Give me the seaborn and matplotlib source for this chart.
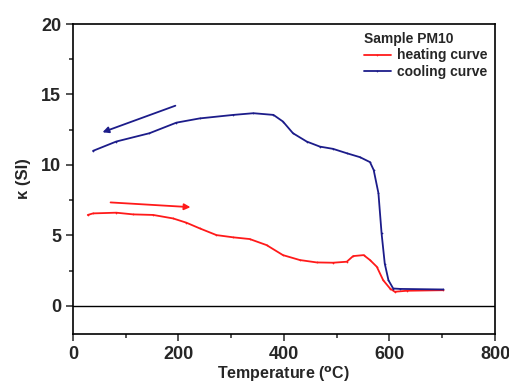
import matplotlib
matplotlib.use("Agg")
import matplotlib.pyplot as plt
import seaborn as sns
import pandas as pd
from matplotlib.ticker import MultipleLocator

# data
heat_T = [28, 38, 82, 114, 152, 190, 215, 240, 272, 304, 335, 367, 398, 430, 462, 493, 519, 531, 551, 563, 576, 588, 601, 610, 633, 702]
heat_k = [6.45, 6.56, 6.61, 6.49, 6.45, 6.2, 5.9, 5.5, 5.02, 4.86, 4.74, 4.31, 3.6, 3.25, 3.08, 3.06, 3.13, 3.53, 3.6, 3.25, 2.77, 1.82, 1.23, 1.0, 1.07, 1.11]
cool_T = [38, 82, 145, 196, 240, 304, 342, 380, 398, 417, 443, 468, 493, 519, 544, 563, 570, 579, 585, 591, 598, 607, 620, 702]
cool_k = [11.0, 11.66, 12.25, 13.0, 13.3, 13.55, 13.67, 13.55, 13.08, 12.25, 11.66, 11.3, 11.14, 10.83, 10.55, 10.2, 9.64, 8.0, 5.14, 3.0, 1.82, 1.23, 1.2, 1.16]
series_names = ["heating curve", "cooling curve"]
legend_title = "Sample PM10"

sns.set_style("ticks")
plt.rcParams['font.family'] = ['Liberation Sans', 'DejaVu Sans']
plt.rcParams['font.weight'] = 'bold'

df = pd.concat([
    pd.DataFrame({"T": heat_T, "k": heat_k, "curve": series_names[0]}),
    pd.DataFrame({"T": cool_T, "k": cool_k, "curve": series_names[1]}),
])

fig = plt.figure(figsize=(5.09, 3.83), dpi=100)
ax = fig.add_axes([0.1434, 0.1279, 0.8291, 0.8094])
palette = {series_names[0]: "#ff1a1a", series_names[1]: "#1c1c8a"}
sns.lineplot(data=df, x="T", y="k", hue="curve", palette=palette, ax=ax,
             linewidth=1.3, sort=False, estimator=None, marker='.', markersize=2.5,
             markeredgewidth=0)

ax.axhline(0, color='black', linewidth=1.0)

ax.annotate("", xy=(51, 12.25), xytext=(199, 14.27),
            arrowprops=dict(arrowstyle='-|>', color='#1c1c8a', lw=1.3, mutation_scale=9))
ax.annotate("", xy=(228, 6.99), xytext=(66, 7.35),
            arrowprops=dict(arrowstyle='-|>', color='#ff1a1a', lw=1.3, mutation_scale=9))

ax.set_xlim(0, 800)
ax.set_ylim(-2, 20)
ax.xaxis.set_major_locator(MultipleLocator(200))
ax.xaxis.set_minor_locator(MultipleLocator(100))
ax.yaxis.set_major_locator(MultipleLocator(5))
ax.yaxis.set_minor_locator(MultipleLocator(2.5))
ax.tick_params(which='major', length=5, width=1.1, labelsize=13, direction='out')
ax.tick_params(which='minor', length=3, width=1.1, direction='out')
for lab in ax.get_xticklabels() + ax.get_yticklabels():
    lab.set_fontweight('bold')
for s in ax.spines.values():
    s.set_visible(True)
    s.set_linewidth(1.2)
    s.set_color('black')

ax.set_xlabel("Temperature ($^\\mathbf{o}$C)", fontsize=11.5, fontweight='bold', labelpad=1)
ax.set_ylabel("κ (SI)", fontsize=12, fontweight='bold', labelpad=7)

leg = ax.legend(title=legend_title, loc='upper right', frameon=False,
                fontsize=10, title_fontsize=10, handlelength=2.0, handletextpad=0.4,
                borderaxespad=0.15, labelspacing=0.2)
leg._legend_box.align = "left"
leg.get_title().set_fontweight('bold')
for t in leg.get_texts():
    t.set_fontweight('bold')

fig.savefig("out.png", dpi=100)
